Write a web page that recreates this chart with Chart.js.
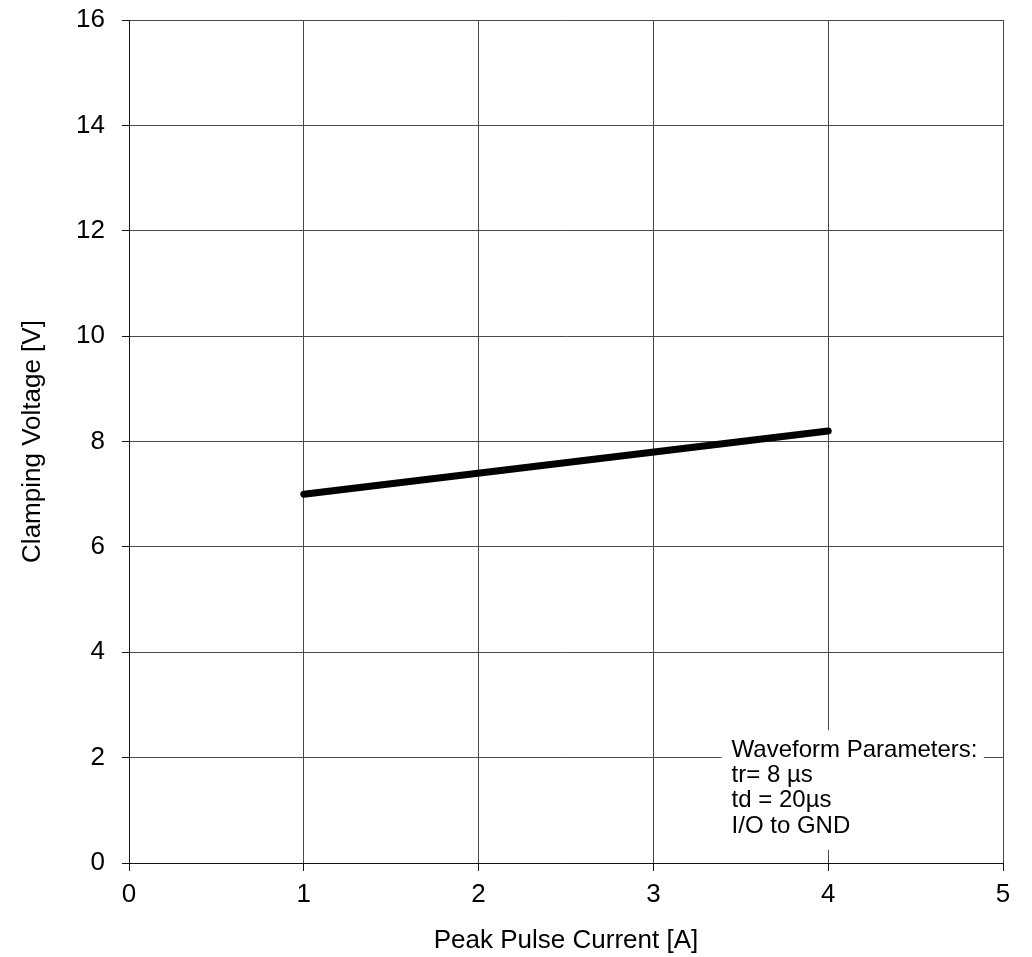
<!DOCTYPE html>
<html>
<head>
<meta charset="utf-8">
<script src="https://cdn.jsdelivr.net/npm/chart.js@4"></script>
<style>
html,body{margin:0;padding:0;background:#fff;}
#wrap{width:1032px;height:957px;}
</style>
</head>
<body>
<div id="wrap"><canvas id="c" width="1032" height="957"></canvas></div>
<script>
const currentA = [1, 4];
const clampV = [7.0, 8.2];
const xTicks = [0, 1, 2, 3, 4, 5];
const yTicks = [0, 2, 4, 6, 8, 10, 12, 14, 16];
const xTitle = 'Peak Pulse Current [A]';
const yTitle = 'Clamping Voltage [V]';
const noteLines = ['Waveform Parameters:', 'tr= 8 µs', 'td = 20µs', 'I/O to GND'];

const FONT = "'Liberation Sans', Arial, sans-serif";

const notePlugin = {
  id: 'note',
  afterDatasetsDraw(chart) {
    const {ctx, scales: {x, y}} = chart;
    const x0 = x.getPixelForValue(3.39), x1 = x.getPixelForValue(4.89);
    const y0 = y.getPixelForValue(2.52), y1 = y.getPixelForValue(0.25);
    ctx.save();
    ctx.fillStyle = '#fff';
    ctx.fillRect(x0, y0, x1 - x0, y1 - y0);
    ctx.fillStyle = '#000';
    ctx.font = '24px ' + FONT;
    ctx.textBaseline = 'middle';
    ctx.textAlign = 'left';
    const tx = x0 + 10;
    let ty = y0 + 20;
    noteLines.forEach((t, i) => {
      ctx.fillText(t, tx, ty + i * 25.3);
    });
    ctx.restore();
  }
};

new Chart(document.getElementById('c'), {
  type: 'line',
  data: {
    datasets: [{
      data: currentA.map((v, i) => ({x: v, y: clampV[i]})),
      borderColor: '#000',
      borderWidth: 7,
      borderCapStyle: 'round',
      pointRadius: 0,
      fill: false,
      tension: 0
    }]
  },
  plugins: [notePlugin],
  options: {
    responsive: false,
    animation: false,
    devicePixelRatio: 1,
    layout: {padding: {left: 0, right: 29, top: 20, bottom: 0}},
    plugins: {legend: {display: false}, tooltip: {enabled: false}},
    scales: {
      x: {
        type: 'linear',
        min: 0, max: 5,
        afterBuildTicks(s) { s.ticks = xTicks.map(v => ({value: v})); },
        afterFit(s) { s.height = 94; s.paddingLeft = 0; s.paddingRight = 0; },
        border: {color: '#111', width: 1},
        grid: {color: '#4a4a4a', lineWidth: 1, tickLength: 8, tickColor: '#111'},
        ticks: {color: '#000', font: {size: 26, family: FONT}, padding: 8, maxRotation: 0},
        title: {display: true, text: xTitle, color: '#000', font: {size: 26, family: FONT}, padding: {top: 4, bottom: 1}}
      },
      y: {
        type: 'linear',
        min: 0, max: 16,
        afterBuildTicks(s) { s.ticks = yTicks.map(v => ({value: v})); },
        afterFit(s) { s.width = 129; s.paddingTop = 0; s.paddingBottom = 0; },
        border: {color: '#111', width: 1},
        grid: {color: '#4a4a4a', lineWidth: 1, tickLength: 7, tickColor: '#111'},
        ticks: {color: '#000', font: {size: 26, family: FONT}, padding: 17},
        title: {display: true, text: yTitle, color: '#000', font: {size: 26, family: FONT}, padding: {top: 17, bottom: 4}}
      }
    }
  }
});
</script>
</body>
</html>
